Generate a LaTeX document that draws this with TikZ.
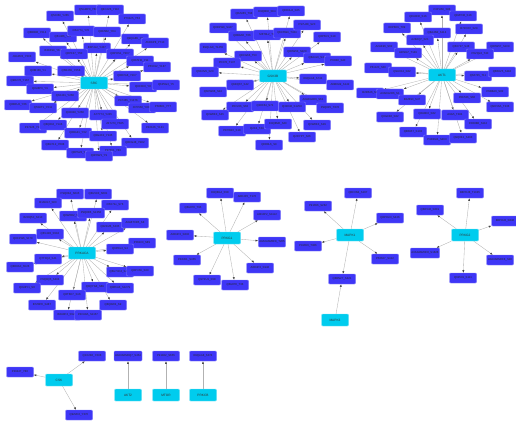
\documentclass[tikz,border=0pt]{standalone}
\usepackage{fontspec}
\setmainfont{Liberation Sans}
\usepackage{tikz}
\usetikzlibrary{arrows.meta, positioning, backgrounds}
\usepackage{xcolor}
\definecolor{leafblue}{RGB}{62,54,246}
\definecolor{leafrim}{RGB}{130,125,250}
\definecolor{kinase}{RGB}{0,204,238}
\definecolor{kinrim}{RGB}{120,225,245}

\begin{document}
\begin{tikzpicture}[x=1pt, y=-1pt,
  leaf/.style={draw=leafrim, fill=leafblue, rounded corners=1pt, align=center,
               inner sep=1pt, minimum width=27pt, minimum height=10pt,
               font=\fontsize{2.8}{3.2}\selectfont, text=black!85},
  hub/.style={draw=kinrim, fill=kinase, rounded corners=1pt, align=center,
              inner sep=1pt, minimum width=27pt, minimum height=12pt,
              font=\fontsize{3.2}{3.6}\selectfont, text=black!80},
  arr/.style={-{Latex[length=2.6pt, width=2pt, color=black!75]}, draw=gray!60, line width=0.35pt}]
\useasboundingbox (0,0) rectangle (516,425);

% hubs
\node[hub] (src) at (94,83) {SRC};
\node[hub] (gsk) at (273,76) {GSK3B};
\node[hub] (akt) at (442,75) {AKT1};
\node[hub] (pka) at (82,253) {PRKACA};
\node[hub] (pkg) at (227,238) {PRKG1};
\node[hub] (mk1) at (350,235) {MAPK1};
\node[hub] (mk3) at (335,320) {MAPK3};
\node[hub] (pk2) at (465,235) {PRKG2};
\node[hub] (csk) at (59,380) {CSK};
\node[hub] (ak2) at (128,395) {AKT2};
\node[hub] (mtr) at (166,395) {MTOR};
\node[hub] (pkc) at (203,395) {PRKCB};

% SRC substrates
\foreach \x/\y/\t [count=\i] in {88/10/Q5GMP8\_Y60, 110/10/Q8C2Z6\_Y110, 132/19/P70425\_Y53,
  60/16/Q52060\_Y265, 37/33/Q8BB98\_Y214, 63/37/Q61466\_Y14, 81/31/O54774\_Y70,
  107/32/Q8K5B2\_Y84, 135/39/Q9QGB5\_Y2, 155/43/A5DKP8\_Y710, 53/51/B3KF99\_Y63,
  97/48/B3P4L2\_Y437, 74/54/Q6PF47\_Y50, 120/54/Q8PHS1\_Y207, 22/57/J9GPR3\_Y303,
  140/61/Q8K5H8\_Y11, 38/71/Q8BH66\_Y1, 71/71/Q5B4S5\_Y258, 157/67/P55012\_Y187,
  127/76/Q8R7G8\_Y167, 20/81/Q9R276\_Y167, 40/89/Q8U8P6\_Y9, 143/87/Q8C0K8\_Y8,
  166/85/Q6P5G3\_Y5, 65/96/Q62431\_Y258, 18/105/Q8B0U2\_Y66, 43/108/Q5S8T1\_Y211,
  128/101/P97465\_Y1376, 142/108/O70558\_Y807, 163/107/P58681\_Y77, 75/113/Q32848\_Y258,
  103/115/A77Y74\_Y245, 33/128/P47126\_Y10, 53/125/Q8Q804\_Y146, 115/124/Z47J73\_Y625,
  155/128/P40126\_Y141, 78/133/Q88G41\_Y32, 103/136/Q3G4X2\_Y245, 135/143/Q8CG48\_Y282,
  55/145/Q8GT12\_Y688, 80/153/Q8PS23\_Y11, 113/151/P97301\_Y80, 99/156/Q9P8W1\_Y9}
{
  \node[leaf] (a\i) at (\x,\y) {\t};
  \begin{scope}[on background layer]\draw[arr] (src) -- (a\i);\end{scope}
}

% GSK3B substrates
\foreach \x/\y/\t [count=\i] in {244/14/Q6ZU65\_T98, 267/12/E9Q8K8\_S64, 291/11/Q8R4U4\_S65,
  223/28/Q8R2W9\_S447, 242/36/Q8BG66\_T66, 267/35/M6T8L2\_T1, 287/33/Q6C6W4\_T434,
  307/25/P97U48\_S20, 327/37/Q8P5R1\_S18, 213/48/E9QLG8\_T1455, 248/56/Q8CG66\_T53,
  297/52/Q80W53\_S220, 317/58/Q8A4L6\_S40, 338/61/P6H48\_S40, 227/63/P0X78\_T137,
  205/72/Q5K3V9\_S20, 240/85/Q9EQ67\_S42, 313/79/E9QLG8\_S744, 340/85/A8M8U9\_S142,
  213/92/Q6CW66\_S24, 313/100/A0A0G2R6\_S61, 240/107/P8V226\_S63, 265/106/Q28X64\_S71,
  292/107/Q32848\_S1258, 330/108/P9Q8Z5\_T878, 215/115/Q3W8K3\_S45, 232/131/P87W20\_S18,
  257/129/Q2X4\_T44, 278/124/E9Q8M6\_S40, 317/125/Q3W8K3\_S29, 269/145/Q8R8L6\_S9,
  302/137/Q2DYP7\_S26}
{
  \node[leaf] (b\i) at (\x,\y) {\t};
  \begin{scope}[on background layer]\draw[arr] (gsk) -- (b\i);\end{scope}
}

% AKT1 substrates
\foreach \x/\y/\t [count=\i] in {442/10/P4PU58\_S88, 418/17/Q8U8N0\_S16, 463/16/Q8ZPN8\_S16,
  397/28/E8P6D9\_T89, 469/29/B7ZC6V\_S29, 437/33/Q8A4N2\_S114, 420/40/A2B4Q7\_S21,
  461/47/Q6X727\_S48, 384/47/A2AK96\_S62, 500/47/Q80W57\_S109, 408/53/A2ING7\_T149,
  480/54/P9VQL8\_T40, 378/68/P61120\_S30, 402/72/Q9UX04\_S82, 478/76/Q6Z745\_T11,
  502/72/Q6B9V5\_S118, 370/93/B2R546\_S8, 390/94/A0A0G2R6\_S1, 495/92/P9B8A6\_S82,
  412/100/B3Z890\_S47, 467/98/P8K536\_S66, 500/107/Q9HV6A\_T436, 390/117/Q3G9K6\_S82,
  427/114/Q8U8K0\_S62, 455/115/A9G5\_T484, 478/124/P4R8B8\_S112, 413/132/Q8B957\_S103,
  437/140/P9DRU4\_S463, 463/138/Q9Q8K1\_S463}
{
  \node[leaf] (c\i) at (\x,\y) {\t};
  \begin{scope}[on background layer]\draw[arr] (akt) -- (c\i);\end{scope}
}

% PRKACA substrates
\foreach \x/\y/\t [count=\i] in {70/194/P9Q8K4\_S645, 98/194/Q8UV93\_S681, 48/203/B1AVG7\_S80,
  115/205/O5X71x\_S76, 73/216/Q8W6R2\_S412, 91/213/P9Q8D6\_S1358, 33/218/B2RQ50\_S310,
  110/227/Q3Z4M6\_S335, 135/223/A0A6T3R5\_S8, 50/234/Q6V4Z8\_S518, 23/239/Q8C2W6\_S178,
  142/243/P06100\_S89, 120/249/Q6P8U4\_S4, 48/259/Q7T0Q4\_S41, 20/267/Q8R8A0\_S526,
  120/272/Q6U73C4\_S485, 140/271/Q8P7A6\_S30, 50/280/P9Q8Q5\_S404, 27/288/Q8U8Y1\_S8,
  95/287/Q8QYG8\_S69, 120/288/Q8B5A6\_S1279, 42/305/B7Z8P8\_S487, 72/295/Q8T6H7\_S16,
  113/305/Q8Q8W4\_S9, 67/315/B8U8P4\_S526, 88/315/P40U8A\_S1157}
{
  \node[leaf] (d\i) at (\x,\y) {\t};
  \begin{scope}[on background layer]\draw[arr] (pka) -- (d\i);\end{scope}
}

% PRKG1 substrates
\foreach \x/\y/\t [count=\i] in {220/193/E9Q8G4\_S58, 247/197/A8D4P2\_T176, 193/208/Q6U878\_T95,
  267/215/A8D4P2\_S1112, 180/235/A8D4P2\_S832, 272/242/A0A0A6M0F8\_T205, 187/260/P48451\_S455,
  260/268/A8D4P2\_S948, 207/280/Q9Y2U1\_S58, 235/285/Q6U878\_T36}
{
  \node[leaf] (e\i) at (\x,\y) {\t};
  \begin{scope}[on background layer]\draw[arr] (pkg) -- (e\i);\end{scope}
}

% MAPK1 substrates
\foreach \x/\y/\t [count=\i] in {358/193/Q8C0N4\_S167, 318/206/P91656\_S262, 390/218/Q8PHU3\_S426,
  308/246/P91656\_T386, 385/259/P56627\_S412}
{
  \node[leaf] (f\i) at (\x,\y) {\t};
  \begin{scope}[on background layer]\draw[arr] (mk1) -- (f\i);\end{scope}
}
\node[leaf] (f6) at (342,279) {Q8BN27\_S421};
\begin{scope}[on background layer]
  \draw[arr] (mk1) -- (f6);
  \draw[arr] (mk3) -- (f6);
\end{scope}

% PRKG2 substrates
\foreach \x/\y/\t [count=\i] in {470/193/B8PHJ8\_T1045, 430/210/Q6R546\_S819, 505/221/B8PHJ8\_S846,
  425/253/A0A0A6M0F8\_S1626, 500/260/A0A0A6M0F8\_S28, 463/278/Q62531\_S111}
{
  \node[leaf] (g\i) at (\x,\y) {\t};
  \begin{scope}[on background layer]\draw[arr] (pk2) -- (g\i);\end{scope}
}

% small groups
\node[leaf] (h1) at (20,372) {P46447\_Y80};
\node[leaf] (h2) at (92,356) {Q1X2K6\_Y436};
\node[leaf] (h3) at (79,415) {Q9Z2K6\_Y370};
\node[leaf] (h4) at (128,356) {A0A0A6M0Q7\_S454};
\node[leaf] (h5) at (166,356) {P91822\_S655};
\node[leaf] (h6) at (203,356) {E9QLG8\_S374};
\begin{scope}[on background layer]
  \draw[arr] (csk) -- (h1);
  \draw[arr] (csk) -- (h2);
  \draw[arr] (csk) -- (h3);
  \draw[arr] (ak2) -- (h4);
  \draw[arr] (mtr) -- (h5);
  \draw[arr] (pkc) -- (h6);
\end{scope}
\end{tikzpicture}
\end{document}
